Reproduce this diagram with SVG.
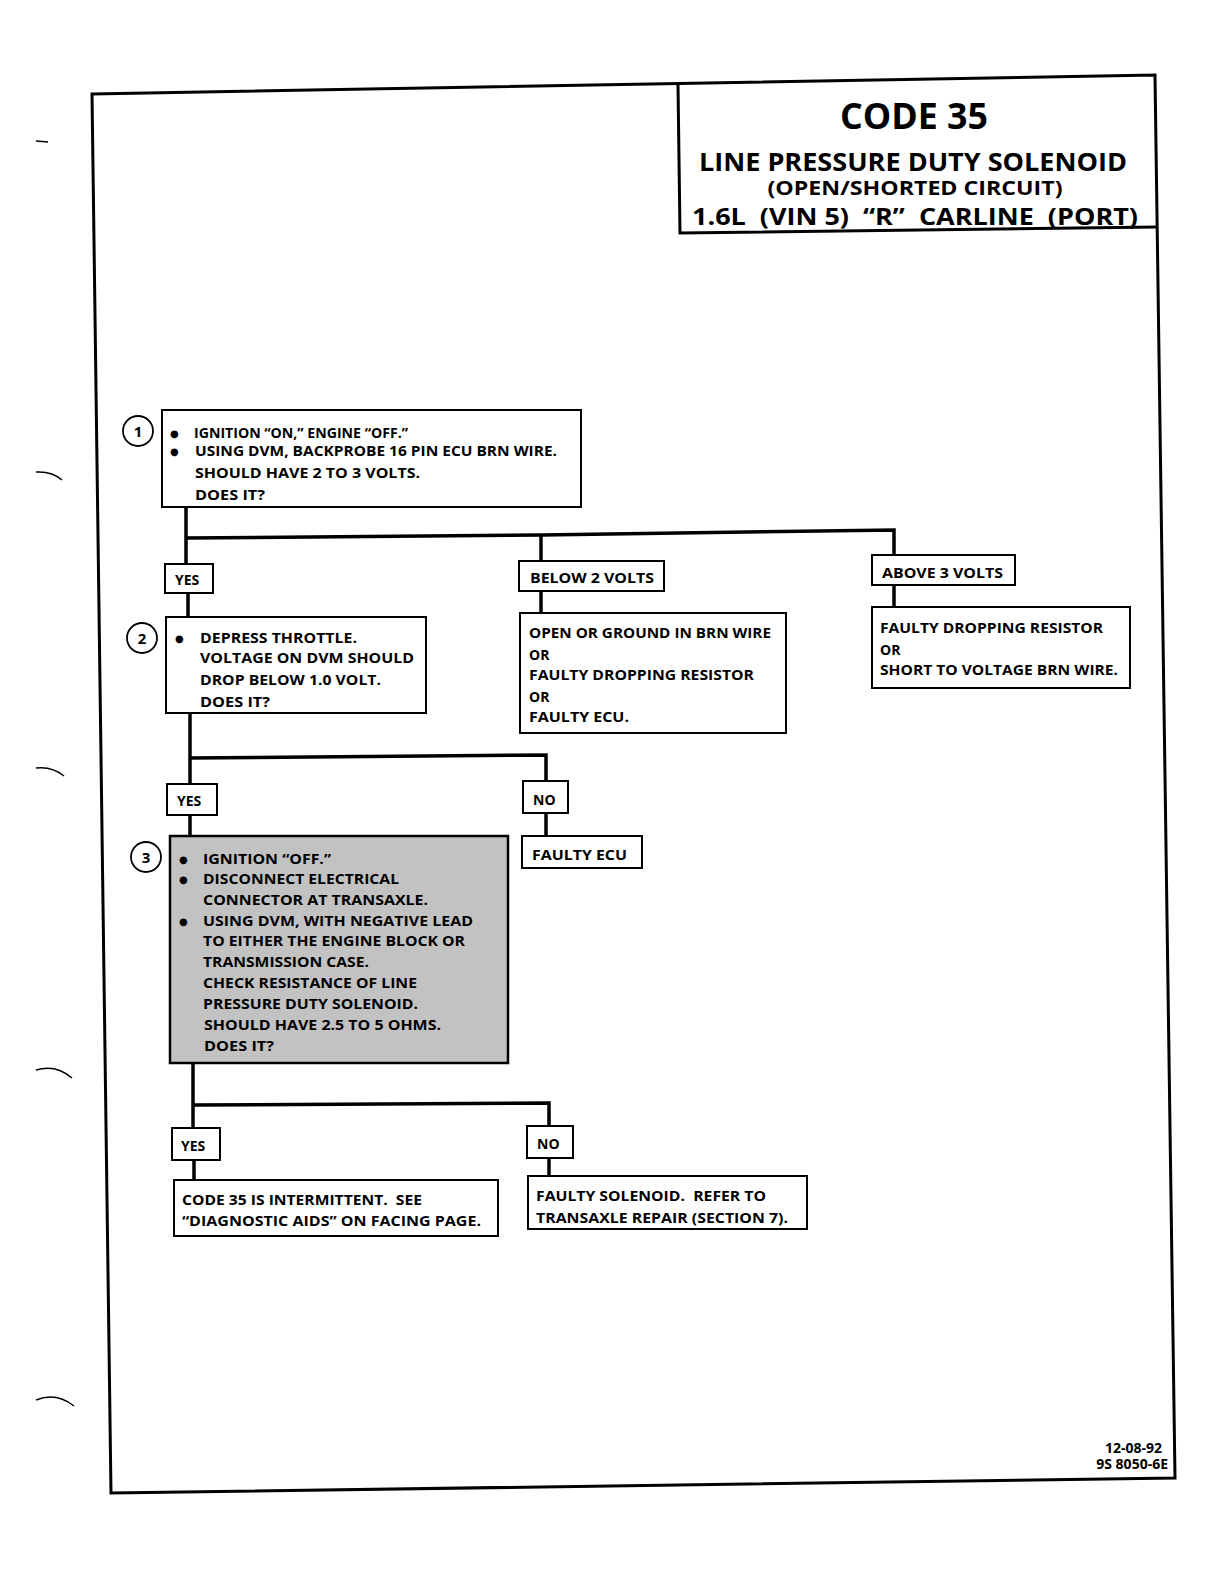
<svg xmlns="http://www.w3.org/2000/svg" width="1230" height="1591" viewBox="0 0 1230 1591">
<style>
text{font-family:"Open Sans","Liberation Sans",sans-serif;font-weight:700;fill:#000;}
.t{font-size:14px;}
.t3{font-size:14.5px;}
.b{font-family:"DejaVu Sans",sans-serif;font-size:10px;}
.pre{white-space:pre;}
.box{fill:#fff;stroke:#000;stroke-width:2;}
.gray{fill:#c2c2c2;stroke:#000;stroke-width:2.5;}
.lbl{fill:#fff;stroke:#000;stroke-width:2;}
.num{fill:#fff;stroke:#000;stroke-width:1.8;}
.ln{fill:none;stroke:#000;stroke-width:3.5;}
.frame{fill:none;stroke:#000;stroke-width:3;}
.mark{fill:none;stroke:#000;stroke-width:1.5;}
</style>
<rect width="1230" height="1591" fill="#fff"/>
<g id="margin-marks">
<path class="mark" d="M36,141 L48,142"/>
<path class="mark" d="M36,472 Q52,471 62,480"/>
<path class="mark" d="M36,768 Q52,766 64,776"/>
<path class="mark" d="M36,1070 Q56,1064 72,1078"/>
<path class="mark" d="M36,1400 Q56,1392 74,1406"/>
</g>
<g id="frame">
<path class="frame" d="M92,94 L1155,75 L1175,1478 L111,1493 Z"/>
</g>
<g id="title">
<path class="frame" d="M678,85 L680,233 L1157,227" stroke-width="2"/>
<text x="914" y="129" font-size="36" text-anchor="middle" textLength="148" lengthAdjust="spacingAndGlyphs">CODE 35</text>
<text x="913" y="171" font-size="25" text-anchor="middle" textLength="428" lengthAdjust="spacingAndGlyphs">LINE PRESSURE DUTY SOLENOID</text>
<text x="915" y="195" font-size="19" text-anchor="middle" textLength="295" lengthAdjust="spacingAndGlyphs">(OPEN/SHORTED CIRCUIT)</text>
<text class="pre" x="692" y="225" font-size="23" textLength="446" lengthAdjust="spacingAndGlyphs">1.6L  (VIN 5)  “R”  CARLINE  (PORT)</text>
</g>
<g id="connectors">
<path class="ln" d="M186,507 L186,565"/>
<path class="ln" d="M186,538 L541,535 L894,530 L894,556"/>
<path class="ln" d="M541,535 L541,562"/>
<path class="ln" d="M188,593 L188,618"/>
<path class="ln" d="M541,591 L541,614"/>
<path class="ln" d="M894,585 L894,608"/>
<path class="ln" d="M190,713 L190,785"/>
<path class="ln" d="M190,758 L546,755 L546,782"/>
<path class="ln" d="M546,813 L546,837"/>
<path class="ln" d="M190,815 L190,837"/>
<path class="ln" d="M193,1063 L193,1129"/>
<path class="ln" d="M193,1105 L549,1103 L549,1127"/>
<path class="ln" d="M194,1160 L194,1181"/>
<path class="ln" d="M549,1158 L549,1177"/>
</g>
<g id="step1">
<circle class="num" cx="138" cy="431" r="15"/>
<text x="138" y="437" font-size="15" text-anchor="middle">1</text>
<rect class="box" x="162" y="410" width="419" height="97"/>
<text class="b" x="170" y="437">●</text>
<text class="t" x="194" y="438" textLength="214" lengthAdjust="spacingAndGlyphs">IGNITION “ON,” ENGINE “OFF.”</text>
<text class="b" x="170" y="455">●</text>
<text class="t" x="195" y="456" textLength="362" lengthAdjust="spacingAndGlyphs">USING DVM, BACKPROBE 16 PIN ECU BRN WIRE.</text>
<text class="t" x="195" y="478" textLength="225" lengthAdjust="spacingAndGlyphs">SHOULD HAVE 2 TO 3 VOLTS.</text>
<text class="t" x="195" y="500" textLength="70" lengthAdjust="spacingAndGlyphs">DOES IT?</text>
</g>
<g id="yes1">
<rect class="lbl" x="165" y="564" width="48" height="29"/>
<text class="t" x="175" y="585">YES</text>
</g>
<g id="below2">
<rect class="lbl" x="519" y="561" width="145" height="30"/>
<text class="t" x="530" y="583" textLength="124" lengthAdjust="spacingAndGlyphs">BELOW 2 VOLTS</text>
</g>
<g id="below2-result">
<rect class="box" x="520" y="613" width="266" height="120"/>
<text class="t" x="529" y="638" textLength="242" lengthAdjust="spacingAndGlyphs">OPEN OR GROUND IN BRN WIRE</text>
<text class="t" x="529" y="660">OR</text>
<text class="t" x="529" y="680" textLength="225" lengthAdjust="spacingAndGlyphs">FAULTY DROPPING RESISTOR</text>
<text class="t" x="529" y="702">OR</text>
<text class="t" x="529" y="722" textLength="100" lengthAdjust="spacingAndGlyphs">FAULTY ECU.</text>
</g>
<g id="above3">
<rect class="lbl" x="872" y="555" width="143" height="30"/>
<text class="t" x="882" y="578" textLength="121" lengthAdjust="spacingAndGlyphs">ABOVE 3 VOLTS</text>
</g>
<g id="above3-result">
<rect class="box" x="872" y="607" width="258" height="81"/>
<text class="t" x="880" y="633" textLength="223" lengthAdjust="spacingAndGlyphs">FAULTY DROPPING RESISTOR</text>
<text class="t" x="880" y="655">OR</text>
<text class="t" x="880" y="675" textLength="238" lengthAdjust="spacingAndGlyphs">SHORT TO VOLTAGE BRN WIRE.</text>
</g>
<g id="step2">
<circle class="num" cx="142" cy="638" r="15"/>
<text x="142" y="644" font-size="15" text-anchor="middle">2</text>
<rect class="box" x="166" y="617" width="260" height="96"/>
<text class="b" x="175" y="642">●</text>
<text class="t" x="200" y="643" textLength="157" lengthAdjust="spacingAndGlyphs">DEPRESS THROTTLE.</text>
<text class="t" x="200" y="663" textLength="214" lengthAdjust="spacingAndGlyphs">VOLTAGE ON DVM SHOULD</text>
<text class="t" x="200" y="685" textLength="181" lengthAdjust="spacingAndGlyphs">DROP BELOW 1.0 VOLT.</text>
<text class="t" x="200" y="707" textLength="70" lengthAdjust="spacingAndGlyphs">DOES IT?</text>
</g>
<g id="yes2">
<rect class="lbl" x="167" y="784" width="50" height="31"/>
<text class="t" x="177" y="806">YES</text>
</g>
<g id="no2">
<rect class="lbl" x="523" y="781" width="45" height="32"/>
<text class="t" x="533" y="805">NO</text>
</g>
<g id="faulty-ecu">
<rect class="box" x="522" y="836" width="120" height="32"/>
<text class="t" x="532" y="860" textLength="95" lengthAdjust="spacingAndGlyphs">FAULTY ECU</text>
</g>
<g id="step3">
<circle class="num" cx="146" cy="857" r="15"/>
<text x="146" y="863" font-size="15" text-anchor="middle">3</text>
<rect class="gray" x="170" y="836" width="338" height="227"/>
<text class="b" x="179" y="863">●</text>
<text class="t3" x="203" y="864" textLength="128" lengthAdjust="spacingAndGlyphs">IGNITION “OFF.”</text>
<text class="b" x="179" y="883">●</text>
<text class="t3" x="203" y="884" textLength="196" lengthAdjust="spacingAndGlyphs">DISCONNECT ELECTRICAL</text>
<text class="t3" x="203" y="905" textLength="225" lengthAdjust="spacingAndGlyphs">CONNECTOR AT TRANSAXLE.</text>
<text class="b" x="179" y="925">●</text>
<text class="t3" x="203" y="926" textLength="270" lengthAdjust="spacingAndGlyphs">USING DVM, WITH NEGATIVE LEAD</text>
<text class="t3" x="203" y="946" textLength="262" lengthAdjust="spacingAndGlyphs">TO EITHER THE ENGINE BLOCK OR</text>
<text class="t3" x="203" y="967" textLength="166" lengthAdjust="spacingAndGlyphs">TRANSMISSION CASE.</text>
<text class="t3" x="203" y="988" textLength="214" lengthAdjust="spacingAndGlyphs">CHECK RESISTANCE OF LINE</text>
<text class="t3" x="203" y="1009" textLength="215" lengthAdjust="spacingAndGlyphs">PRESSURE DUTY SOLENOID.</text>
<text class="t3" x="204" y="1030" textLength="237" lengthAdjust="spacingAndGlyphs">SHOULD HAVE 2.5 TO 5 OHMS.</text>
<text class="t3" x="204" y="1051" textLength="70" lengthAdjust="spacingAndGlyphs">DOES IT?</text>
</g>
<g id="yes3">
<rect class="lbl" x="172" y="1128" width="48" height="32"/>
<text class="t" x="181" y="1151">YES</text>
</g>
<g id="no3">
<rect class="lbl" x="527" y="1126" width="46" height="32"/>
<text class="t" x="537" y="1149">NO</text>
</g>
<g id="intermittent">
<rect class="box" x="174" y="1180" width="324" height="56"/>
<text class="t pre" x="182" y="1205" textLength="240" lengthAdjust="spacingAndGlyphs">CODE 35 IS INTERMITTENT.  SEE</text>
<text class="t" x="182" y="1226" textLength="299" lengthAdjust="spacingAndGlyphs">“DIAGNOSTIC AIDS” ON FACING PAGE.</text>
</g>
<g id="faulty-solenoid">
<rect class="box" x="528" y="1176" width="279" height="53"/>
<text class="t pre" x="536" y="1201" textLength="230" lengthAdjust="spacingAndGlyphs">FAULTY SOLENOID.  REFER TO</text>
<text class="t" x="536" y="1223" textLength="252" lengthAdjust="spacingAndGlyphs">TRANSAXLE REPAIR (SECTION 7).</text>
</g>
<g id="footer">
<text class="t" x="1162" y="1453" text-anchor="end">12-08-92</text>
<text class="t" x="1168" y="1469" text-anchor="end">9S 8050-6E</text>
</g>
</svg>
